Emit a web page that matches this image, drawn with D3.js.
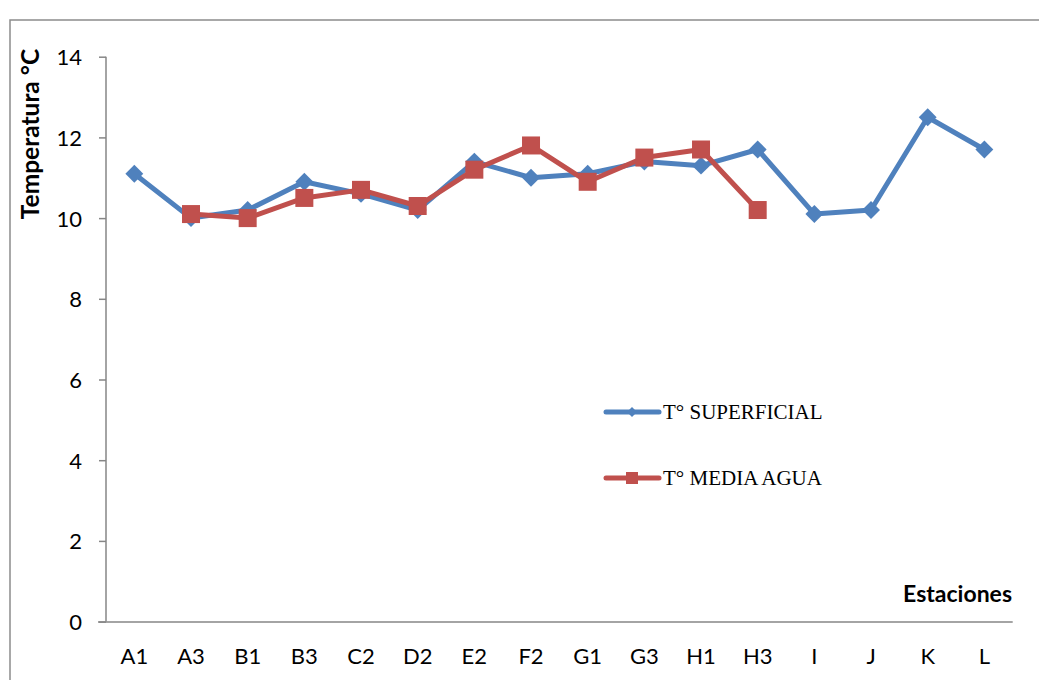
<!DOCTYPE html>
<html><head><meta charset="utf-8">
<script src="https://cdn.jsdelivr.net/npm/d3@7/dist/d3.min.js"></script>
<style>
html,body{margin:0;padding:0;background:#fff;}
svg{display:block;}
</style></head>
<body>
<svg id="chart" width="1039" height="680"></svg>
<script>
const categories = ["A1","A3","B1","B3","C2","D2","E2","F2","G1","G3","H1","H3","I","J","K","L"];
const superficial = [11.1,10.0,10.2,10.9,10.6,10.2,11.4,11.0,11.1,11.4,11.3,11.7,10.1,10.2,12.5,11.7];
const mediaAgua = [null,10.1,10.0,10.5,10.7,10.3,11.2,11.8,10.9,11.5,11.7,10.2,null,null,null,null];
const yTicks = [0,2,4,6,8,10,12,14];
const seriesNames = ["T° SUPERFICIAL","T° MEDIA AGUA"];

const svg = d3.select("#chart");
const sansFont = "Lato, 'Open Sans', sans-serif";
const axisColor = "#868686";
const blue = "#4F81BD", red = "#C0504D";

// frame
svg.append("rect").attr("x",10).attr("y",20).attr("width",1060).attr("height",700)
  .attr("fill","none").attr("stroke","#8c8c8c").attr("stroke-width",1.5);

const x = d3.scaleBand().domain(categories).range([106,1012.7]).padding(0);
const y = d3.scaleLinear().domain([0,14]).range([621.6,56.7]);

// y axis
const yAxis = d3.axisLeft(y).tickValues(yTicks).tickSize(7).tickPadding(17).tickFormat(d3.format("d"));
const gy = svg.append("g").attr("transform","translate(106,0)").call(yAxis);
gy.select(".domain").attr("stroke",axisColor).attr("stroke-width",1.5).attr("d",`M0,${y(14)}V${y(0)}`);
gy.selectAll(".tick line").attr("stroke",axisColor).attr("stroke-width",1.5);
gy.selectAll(".tick text").attr("font-family",sansFont).attr("font-size",22).attr("fill","#000")
  .attr("dy","0.36em");

// x axis
const xAxis = d3.axisBottom(x).tickSize(0).tickPadding(27);
const gx = svg.append("g").attr("transform",`translate(0,${y(0)})`).call(xAxis);
gx.select(".domain").attr("stroke",axisColor).attr("stroke-width",1.5).attr("d",`M98,0.5H1012.7`);
gx.selectAll(".tick text").attr("font-family",sansFont).attr("font-size",22).attr("fill","#000");

// axis titles
svg.append("text").attr("font-family",sansFont).attr("font-weight","bold").attr("font-size",23)
  .attr("text-anchor","end").attr("x",1012).attr("y",602).text("Estaciones");
svg.append("text").attr("font-family",sansFont).attr("font-weight","bold").attr("font-size",24.5)
  .attr("text-anchor","middle").attr("transform","translate(39,134) rotate(-90)").text("Temperatura °C");

const line = d3.line().defined(d=>d.v!=null).x(d=>x(d.c)+x.bandwidth()/2).y(d=>y(d.v));
const dataS = categories.map((c,i)=>({c,v:superficial[i]}));
const dataM = categories.map((c,i)=>({c,v:mediaAgua[i]}));

svg.append("path").datum(dataS).attr("d",line).attr("fill","none").attr("stroke",blue)
  .attr("stroke-width",5).attr("stroke-linejoin","round");
svg.append("path").datum(dataM).attr("d",line).attr("fill","none").attr("stroke",red)
  .attr("stroke-width",5).attr("stroke-linejoin","round");

const diamond = d3.symbol().type(d3.symbolSquare).size(160);
svg.append("g").selectAll("path").data(dataS.filter(d=>d.v!=null)).join("path")
  .attr("d",diamond())
  .attr("transform",d=>`translate(${x(d.c)+x.bandwidth()/2},${y(d.v)}) rotate(45)`)
  .attr("fill",blue);
svg.append("g").selectAll("rect").data(dataM.filter(d=>d.v!=null)).join("rect")
  .attr("x",d=>x(d.c)+x.bandwidth()/2-9).attr("y",d=>y(d.v)-9)
  .attr("width",18).attr("height",18).attr("fill",red);

// legend
const legend = svg.append("g");
const legItems = [{name:seriesNames[0],color:blue,y:412,shape:"diamond"},{name:seriesNames[1],color:red,y:478,shape:"square"}];
legItems.forEach(it=>{
  legend.append("line").attr("x1",606).attr("x2",659).attr("y1",it.y).attr("y2",it.y)
    .attr("stroke",it.color).attr("stroke-width",5).attr("stroke-linecap","round");
  if(it.shape==="diamond"){
    legend.append("path").attr("d",d3.symbol().type(d3.symbolSquare).size(50)())
      .attr("transform",`translate(632,${it.y}) rotate(45)`).attr("fill",it.color);
  } else {
    legend.append("rect").attr("x",626).attr("y",it.y-6).attr("width",12).attr("height",12).attr("fill",it.color);
  }
  legend.append("text").attr("x",663).attr("y",it.y+7).attr("font-family","'Liberation Serif', 'Times New Roman', serif")
    .attr("font-size",21).attr("fill","#000").text(it.name);
});
</script>
</body></html>
